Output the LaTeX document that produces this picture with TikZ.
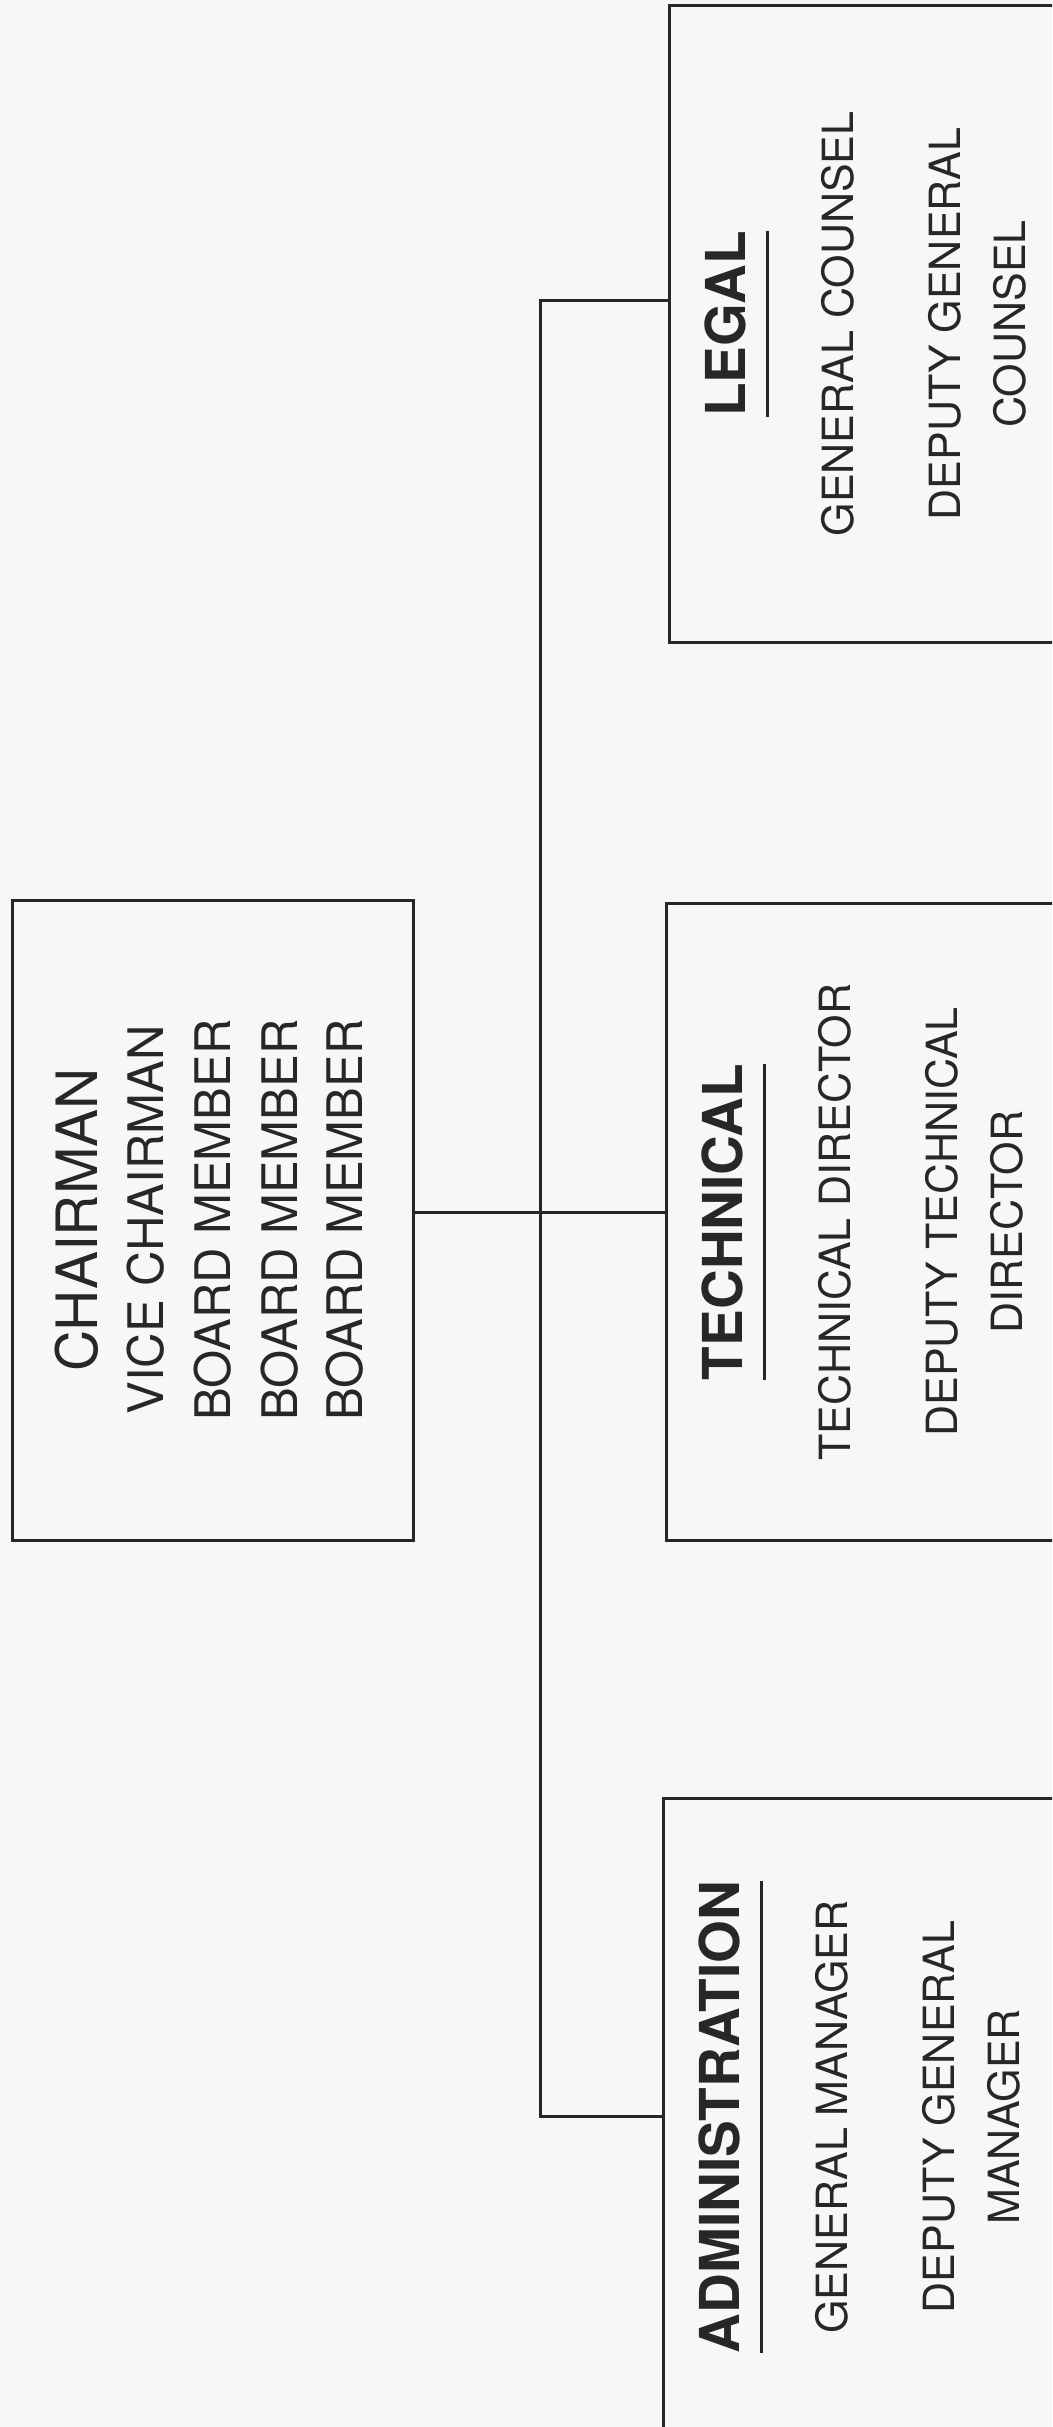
\documentclass[tikz,border=0pt]{standalone}
\usepackage{fontspec}
\setmainfont{TeX Gyre Heros}
\usepackage{xcolor}
\usepackage{tikz}
\usetikzlibrary{positioning}
\definecolor{paper}{RGB}{248,247,247}
\definecolor{ink}{RGB}{40,38,38}
\tikzset{
  rulebar/.style={ink,line width=3pt},
  chairbox/.style={draw=ink,line width=3pt,minimum width=401pt,minimum height=640pt,inner sep=0pt},
  deptbox/.style={draw=ink,line width=3pt,minimum width=450pt,minimum height=637pt,inner sep=0pt,anchor=west},
  boardtxt/.style={rotate=90,anchor=base,inner sep=0pt,text=ink,font=\fontsize{49}{55}\selectfont},
  headtxt/.style={rotate=90,anchor=base,inner sep=0pt,text=ink,font=\fontsize{55}{60}\selectfont\bfseries},
  itemtxt/.style={rotate=90,anchor=base,inner sep=0pt,text=ink,font=\fontsize{43}{50}\selectfont}
}
\begin{document}
\begin{tikzpicture}[x=1pt,y=-1pt]
  \useasboundingbox (0,0) rectangle (1052,2427);
  \fill[paper] (0,0) rectangle (1052,2427);
  \clip (0,0) rectangle (1052,2427);
  % board
  \node[chairbox] (chair) at (212.5,1220) {};
  \node[boardtxt,font=\fontsize{57}{60}\selectfont] (chair-0) at (97,1220) {CHAIRMAN};
  \foreach \bx/\ln [count=\i] in {163/VICE CHAIRMAN,230/BOARD MEMBER,297/BOARD MEMBER,362/BOARD MEMBER}
    \node[boardtxt] (chair-\i) at (\bx,1220) {\ln};
  % departments
  \foreach \nm/\yc/\xl/\hd/\one/\two/\three in {%
    legal/324/668/LEGAL/GENERAL COUNSEL/DEPUTY GENERAL/COUNSEL,
    tech/1222/665/TECHNICAL/TECHNICAL DIRECTOR/DEPUTY TECHNICAL/DIRECTOR,
    admin/2117/662/ADMINISTRATION/GENERAL MANAGER/DEPUTY GENERAL/MANAGER}{
    \node[deptbox] (\nm) at (\xl,\yc) {};
    \node[headtxt] (\nm-hd) at (\xl+77,\yc) {\hd};
    \draw[rulebar] ([xshift=22pt]\nm-hd.base west) -- ([xshift=22pt]\nm-hd.base east);
    \node[itemtxt] (\nm-a) at (\xl+185,\yc) {\one};
    \node[itemtxt] (\nm-b) at (\xl+292,\yc) {\two};
    \node[itemtxt] (\nm-c) at (\xl+357,\yc) {\three};
  }
  % connectors
  \coordinate (trunktop) at (540,300);
  \coordinate (trunkbot) at (540,2116);
  \draw[rulebar] (trunktop -| legal.west) -- (trunktop) -- (trunkbot) -- (trunkbot -| admin.west);
  \draw[rulebar] ([yshift=8pt]chair.east) -- ([yshift=8pt]chair.east -| tech.west);
\end{tikzpicture}
\end{document}
